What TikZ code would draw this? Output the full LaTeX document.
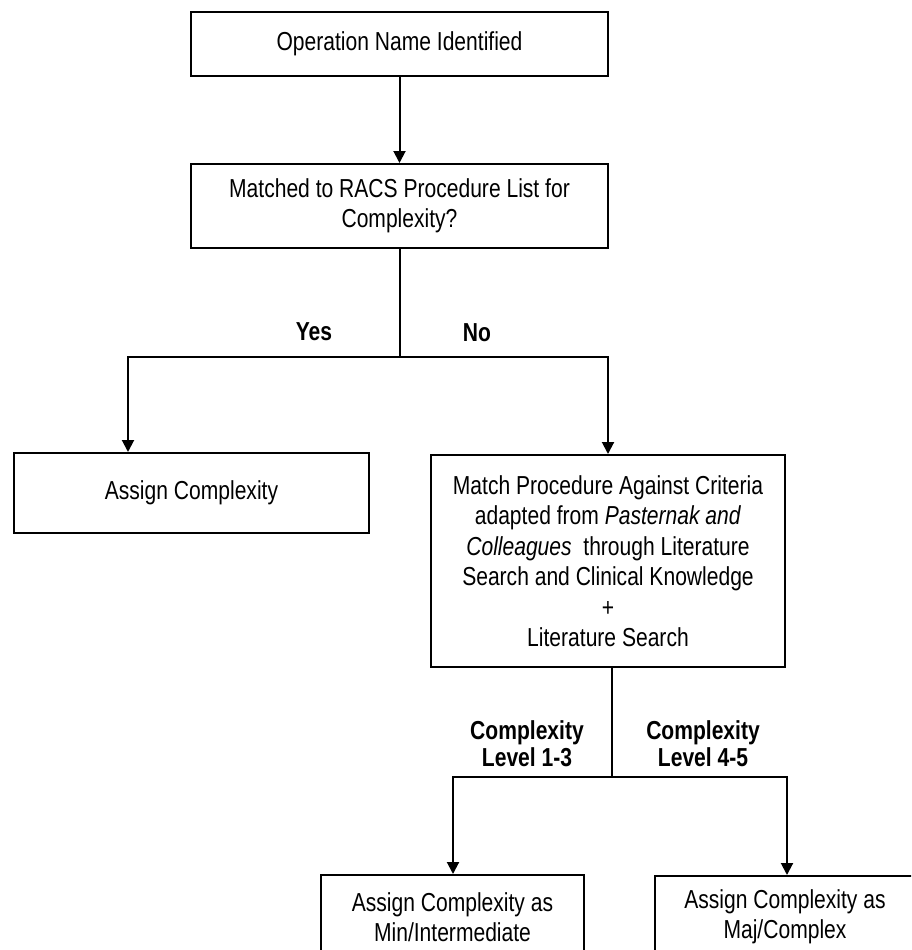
\documentclass[tikz,border=0pt]{standalone}
\usepackage{fontspec}
\setmainfont{Liberation Sans}[FakeStretch=0.81]
\usetikzlibrary{arrows.meta}
\tikzset{
  box/.style={draw, line width=2pt, rectangle, inner sep=0pt, font=\fontsize{26}{30.5}\selectfont, align=center},
  txt/.style={inner sep=0pt, font=\fontsize{26}{30.5}\selectfont, align=center},
  lbl/.style={inner sep=0pt, font=\bfseries\fontsize{26}{27}\selectfont, align=center},
  conn/.style={line width=2pt},
  arr/.style={conn, -{Triangle[width=12pt,length=12pt]}}
}
\begin{document}
\begin{tikzpicture}[x=1pt,y=-1pt]
\useasboundingbox (0,0) rectangle (911,950);
\clip (0,0) rectangle (911,950);
\node[box, minimum width=417pt, minimum height=64pt] (b1) at (399.5,44) {Operation Name Identified};
\node[box, minimum width=417pt, minimum height=84pt] (b2) at (399.5,206) {Matched to RACS Procedure List for\\Complexity?};
\node[box, minimum width=355pt, minimum height=80pt] (b3) at (191.5,493) {Assign Complexity};
\node[box, minimum width=354pt, minimum height=212pt] (b4) at (608,561) {Match Procedure Against Criteria\\adapted from \textit{Pasternak and}\\\textit{Colleagues}\ \ through Literature\\Search and Clinical Knowledge\\+\\Literature Search};
\node[box, minimum width=263pt, minimum height=120pt] (b5) at (452.5,935) {};
\node[box, minimum width=260pt, minimum height=120pt] (b6) at (785,936) {};
\node[txt] (t5) at (452.5,917) {Assign Complexity as\\Min/Intermediate};
\node[txt] (t6) at (785,917) {Assign Complexity as\\Maj/Complex};
\node[lbl] (yes) at (314,332) {Yes};
\node[lbl] (no) at (477,333) {No};
\node[lbl] (c13) at (527,743.5) {Complexity\\Level 1-3};
\node[lbl] (c45) at (703,743.5) {Complexity\\Level 4-5};
\coordinate (j1) at (399.5,357);
\coordinate (j1l) at (128,357);
\coordinate (j1r) at (608,357);
\coordinate (j2) at (612,777);
\coordinate (j2l) at (453,777);
\coordinate (j2r) at (787,777);
\draw[arr] (b1.south) -- (b2.north);
\draw[conn] (b2.south) -- (j1);
\draw[arr] (j1) -- (j1l) -- (j1l |- b3.north);
\draw[arr] (j1) -- (j1r) -- (b4.north);
\draw[conn] (b4.south -| j2) -- (j2);
\draw[arr] (j2) -- (j2l) -- (j2l |- b5.north);
\draw[arr] (j2) -- (j2r) -- (j2r |- b6.north);
\end{tikzpicture}
\end{document}
